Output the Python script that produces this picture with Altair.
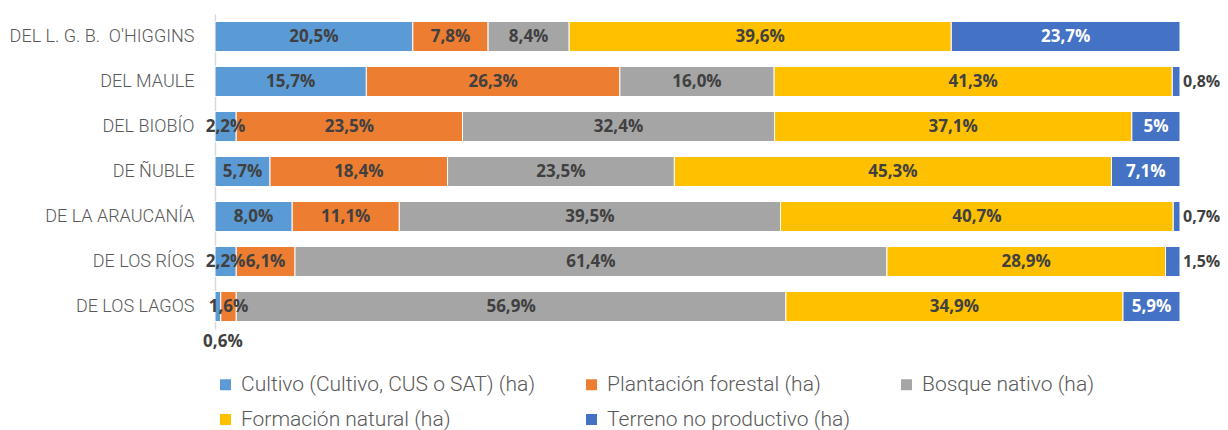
import altair as alt
import pandas as pd

regions = ["DEL L. G. B.\u00a0 O'HIGGINS", "DEL MAULE", "DEL BIOBÍO", "DE ÑUBLE",
           "DE LA ARAUCANÍA", "DE LOS RÍOS", "DE LOS LAGOS"]
categories = ["Cultivo (Cultivo, CUS o SAT) (ha)", "Plantación forestal (ha)",
              "Bosque nativo (ha)", "Formación natural (ha)", "Terreno no productivo (ha)"]
colors = ["#5B9BD5", "#ED7D31", "#A5A5A5", "#FFC000", "#4472C4"]

cultivo = [20.5, 15.7, 2.2, 5.7, 8.0, 2.2, 0.6]
plantacion = [7.8, 26.3, 23.5, 18.4, 11.1, 6.1, 1.6]
bosque = [8.4, 16.0, 32.4, 23.5, 39.5, 61.4, 56.9]
formacion = [39.6, 41.3, 37.1, 45.3, 40.7, 28.9, 34.9]
terreno = [23.7, 0.8, 5.0, 7.1, 0.7, 1.5, 5.9]
# labels shown without decimals in the source
integer_labels = [("DEL BIOBÍO", "Terreno no productivo (ha)")]

series = [cultivo, plantacion, bosque, formacion, terreno]

rows = []
for ci, (cat, vals) in enumerate(zip(categories, series)):
    for r, v in zip(regions, vals):
        if (r, cat) in integer_labels:
            txt = f"{v:.0f}%"
        else:
            txt = f"{v:.1f}".replace(".", ",") + "%"
        if v < 1.55:
            place = "below" if ci == 0 else "right"
        else:
            place = "in"
        rows.append({"region": r, "category": cat, "order": ci, "value": v,
                     "label": txt, "place": place,
                     "tcolor": "#FFFFFF" if ci == 4 else "#404040"})
df = pd.DataFrame(rows)

base = (
    alt.Chart(df)
    .transform_joinaggregate(total="sum(value)", groupby=["region"])
    .transform_stack(stack="value", groupby=["region"],
                     sort=[alt.SortField("order", order="ascending")], as_=["s0", "s1"])
    .transform_calculate(x0="datum.s0/datum.total", x1="datum.s1/datum.total",
                         mid="(datum.s0+datum.s1)/2/datum.total")
)

LFONT = "Roboto"
yenc = alt.Y("region:N", sort=regions, title=None,
             scale=alt.Scale(paddingInner=1/3, paddingOuter=1/6),
             axis=alt.Axis(labelFont=LFONT, labelFontWeight=300,
                           labelFontSize=18, labelColor="#595959", labelPadding=21,
                           labelLimit=0,
                           ticks=False, domainColor="#D9D9D9", domainWidth=1.5))
xscale = alt.Scale(domain=[0, 1], nice=False, zero=True)

bars = base.mark_bar(stroke="white", strokeWidth=1).encode(
    x=alt.X("x0:Q", scale=xscale, axis=None),
    x2="x1:Q",
    y=yenc,
    color=alt.Color("category:N", sort=categories,
                    scale=alt.Scale(domain=categories, range=colors),
                    legend=alt.Legend(title=None, orient="none", legendX=0, legendY=360,
                                      direction="horizontal",
                                      columns=3, columnPadding=45, rowPadding=13,
                                      symbolType="square", symbolSize=121, symbolStrokeWidth=0,
                                      labelFont=LFONT, labelFontWeight=300,
                                      labelFontSize=21, labelColor="#595959", labelOffset=5,
                                      labelLimit=0)),
)

tfont = dict(font="Open Sans", fontSize=17, fontWeight="bold")

inside = base.transform_filter("datum.place == 'in'").mark_text(
    align="center", baseline="middle", **tfont).encode(
    x=alt.X("mid:Q", scale=xscale), y=alt.Y("region:N", sort=regions),
    text="label:N", color=alt.Color("tcolor:N", scale=None))

right = base.transform_filter("datum.place == 'right'").mark_text(
    align="left", baseline="middle", dx=3, color="#404040",
    font="Open Sans", fontSize=16, fontWeight="bold").encode(
    x=alt.X("x1:Q", scale=xscale), y=alt.Y("region:N", sort=regions), text="label:N")

below = base.transform_filter("datum.place == 'below'").mark_text(
    align="center", baseline="middle", dx=5, dy=35, color="#404040", **tfont).encode(
    x=alt.X("mid:Q", scale=xscale), y=alt.Y("region:N", sort=regions), text="label:N")

chart = (
    alt.layer(bars, inside, right, below)
    .properties(width=965, height=315,
                autosize=alt.AutoSizeParams(type="none"),
                padding={"left": 207, "top": 6, "right": 40, "bottom": 101})
    .configure_view(stroke=None)
)

chart.save("out.html", embed_options={"renderer": "svg", "actions": False})
